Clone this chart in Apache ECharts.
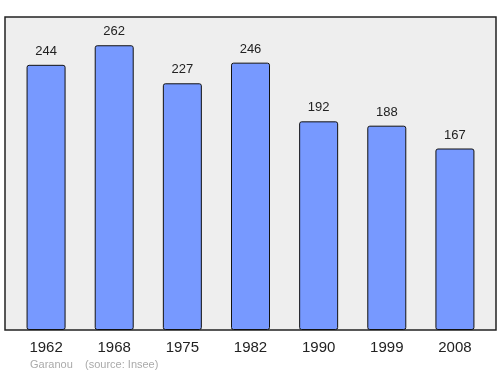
<!DOCTYPE html>
<html>
<head>
<meta charset="utf-8">
<script src="https://cdn.jsdelivr.net/npm/echarts@6/dist/echarts.min.js"></script>
<style>html,body{margin:0;padding:0;background:#fff}#c{width:500px;height:374px}</style>
</head>
<body>
<div id="c"></div>
<script>
var years = ['1962', '1968', '1975', '1982', '1990', '1999', '2008'];
var population = [244, 262, 227, 246, 192, 188, 167];
var footer = 'Garanou    (source: Insee)';

var chart = echarts.init(document.getElementById('c'), null, {renderer: 'canvas'});
chart.setOption({
  animation: false,
  backgroundColor: '#ffffff',
  graphic: [
    {type: 'rect', z: -10, shape: {x: 5, y: 17, width: 491, height: 313},
     style: {fill: '#eeeeee', stroke: '#222222', lineWidth: 1.5}},
    {type: 'text', left: 30, top: 359,
     style: {text: footer, fill: '#aaaaaa', font: '11px "Liberation Sans", Arial, sans-serif'}}
  ],
  grid: {left: 12, right: 11, top: 17, bottom: 44, containLabel: false},
  xAxis: {
    type: 'category', data: years,
    axisLine: {show: false}, axisTick: {show: false},
    axisLabel: {color: '#222', fontSize: 15, fontFamily: 'Liberation Sans, Arial, sans-serif', margin: 10}
  },
  yAxis: {type: 'value', min: 0, max: 288, show: false, splitLine: {show: false}},
  series: [{
    type: 'bar', data: population, barWidth: 39,
    itemStyle: {color: '#7799ff', borderColor: '#111', borderWidth: 1, borderRadius: 2},
    label: {show: true, position: 'top', distance: 7, color: '#222', fontSize: 13,
            fontFamily: 'Liberation Sans, Arial, sans-serif'}
  }]
});
</script>
</body>
</html>
